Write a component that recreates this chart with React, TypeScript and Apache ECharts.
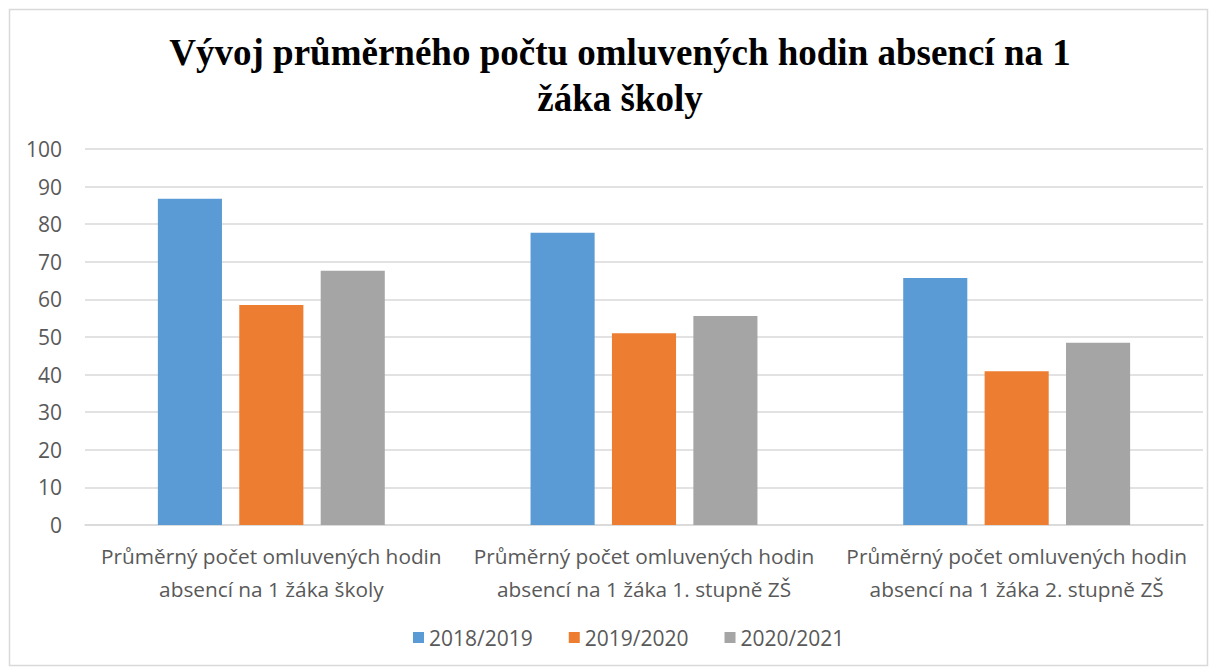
import React, { useEffect, useRef } from "react";
import * as echarts from "echarts";

const titleText = "Vývoj průměrného počtu omluvených hodin absencí na 1\nžáka školy";
const categories = [
  "Průměrný počet omluvených hodin absencí na 1 žáka školy",
  "Průměrný počet omluvených hodin absencí na 1 žáka 1. stupně ZŠ",
  "Průměrný počet omluvených hodin absencí na 1 žáka 2. stupně ZŠ",
];
const seriesNames = ["2018/2019", "2019/2020", "2020/2021"];
const values2018 = [86.8, 77.7, 65.7];
const values2019 = [58.5, 51.0, 40.9];
const values2020 = [67.6, 55.6, 48.5];
const colors = ["#5b9bd5", "#ed7d31", "#a5a5a5"];

export default function App() {
  const ref = useRef<HTMLDivElement>(null);
  useEffect(() => {
    const chart = echarts.init(ref.current!, null, { renderer: "svg" });
    const allValues = [values2018, values2019, values2020];
    chart.setOption({
      animation: false,
      backgroundColor: "#ffffff",
      title: {
        text: titleText,
        left: 620,
        textAlign: "center",
        top: 29,
        padding: 0,
        textStyle: {
          fontFamily: "Liberation Serif",
          fontWeight: "bold",
          fontSize: 37,
          lineHeight: 46,
          color: "#000000",
        },
      },
      graphic: [
        {
          type: "rect",
          shape: { x: 9.5, y: 9.5, width: 1198, height: 656 },
          style: { fill: "none", stroke: "#d9d9d9", lineWidth: 1.5 },
          silent: true,
        },
      ],
      legend: {
        data: seriesNames,
        bottom: 17,
        left: 408,
        itemWidth: 11,
        itemHeight: 11,
        itemGap: 36,
        icon: "rect",
        textStyle: { fontFamily: "Open Sans", fontSize: 21, color: "#595959" },
      },
      grid: { left: 85, right: 17, top: 149, bottom: 145 },
      xAxis: {
        type: "category",
        data: categories,
        axisLine: { lineStyle: { color: "#d9d9d9", width: 1.5 } },
        axisTick: { show: false },
        axisLabel: {
          interval: 0,
          margin: 14,
          fontFamily: "Open Sans",
          fontSize: 20.8,
          lineHeight: 33,
          color: "#595959",
          formatter: (v: string) => v.replace(" hodin ", " hodin\n"),
        },
      },
      yAxis: {
        type: "value",
        min: 0,
        max: 100,
        interval: 10,
        axisLine: { show: false },
        axisTick: { show: false },
        splitLine: { lineStyle: { color: "#d9d9d9", width: 1.5 } },
        axisLabel: {
          margin: 23,
          fontFamily: "Open Sans",
          fontSize: 21,
          color: "#595959",
        },
      },
      series: seriesNames.map((name, i) => ({
        name,
        type: "bar",
        data: allValues[i],
        barWidth: "17.2%",
        barGap: "27%",
        itemStyle: { color: colors[i] },
      })),
    });
    return () => chart.dispose();
  }, []);
  return (
    <div
      ref={ref}
      style={{ position: "fixed", left: 0, top: 0, width: 1220, height: 670 }}
    />
  );
}
